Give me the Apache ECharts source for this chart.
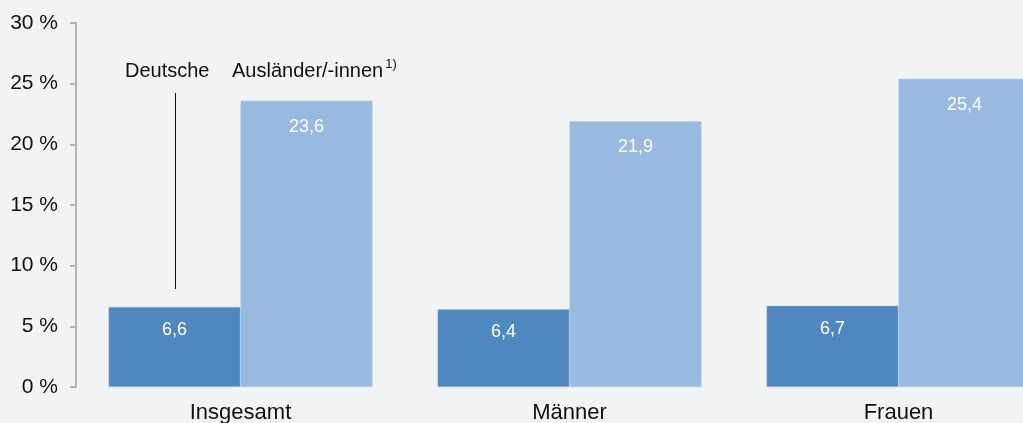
<!DOCTYPE html>
<html style="height: 100%">
<head>
    <meta charset="utf-8">
</head>
<body style="height: 100%; margin: 0; background: #f2f3f3">
<div id="bars" style="width: 1023px; height: 423px"></div>
<script src="https://cdn.jsdelivr.net/npm/echarts@6/dist/echarts.min.js"></script>
<script type="text/javascript">
    // Daten
    var kategorien = ['Insgesamt', 'Männer', 'Frauen'];
    var deutsche = [6.6, 6.4, 6.7];
    var auslaender = [23.6, 21.9, 25.4];
    var yTicks = [0, 5, 10, 15, 20, 25, 30];

    var myBars = echarts.init(document.getElementById('bars'));

    function komma(v) {
        return String(v).replace('.', ',');
    }

    var font = 'Liberation Sans, Arial, sans-serif';

    var option = {
        backgroundColor: '#f2f3f3',
        animation: false,
        grid: {
            left: 76,
            top: 23,
            width: 987,
            height: 364,
            outerBoundsMode: 'none',
            containLabel: false
        },
        xAxis: {
            type: 'category',
            data: kategorien,
            axisLine: { show: false },
            axisTick: { show: false },
            axisLabel: {
                color: '#111',
                fontSize: 22,
                fontFamily: font,
                margin: 15
            }
        },
        yAxis: {
            type: 'value',
            min: yTicks[0],
            max: yTicks[yTicks.length - 1],
            interval: 5,
            splitLine: { show: false },
            axisLine: { show: true, lineStyle: { color: '#b3b3b3', width: 2 } },
            axisTick: { show: true, length: 6, lineStyle: { color: '#b3b3b3', width: 2 } },
            axisLabel: {
                formatter: '{value} %',
                color: '#111',
                fontSize: 21,
                fontFamily: font,
                margin: 18
            }
        },
        series: [
            {
                name: 'Deutsche',
                type: 'bar',
                data: deutsche,
                barWidth: 132,
                barGap: '0%',
                itemStyle: { color: '#4f88be', borderColor: '#a9c4e2', borderWidth: 0.5 },
                label: {
                    show: true,
                    position: 'insideTop',
                    distance: 14,
                    color: '#ffffff',
                    fontSize: 18,
                    fontFamily: font,
                    formatter: function (p) { return komma(p.value); }
                }
            },
            {
                name: 'Ausländer/-innen',
                type: 'bar',
                data: auslaender,
                barWidth: 132,
                barGap: '0%',
                itemStyle: { color: '#98b9e0', borderColor: '#b4cce9', borderWidth: 0.5 },
                label: {
                    show: true,
                    position: 'insideTop',
                    distance: 17,
                    color: '#ffffff',
                    fontSize: 18,
                    fontFamily: font,
                    formatter: function (p) { return komma(p.value); }
                }
            }
        ],
        graphic: [
            {
                type: 'text',
                left: 125,
                top: 61,
                style: { text: 'Deutsche', fill: '#111', font: '20px ' + font }
            },
            {
                type: 'text',
                left: 232,
                top: 58,
                style: {
                    text: '{a|Ausländer/-innen}{s|1)}',
                    rich: {
                        a: { fill: '#111', fontSize: 20, fontFamily: font, verticalAlign: 'bottom' },
                        s: { fill: '#111', fontSize: 13, fontFamily: font, verticalAlign: 'top', padding: [0, 0, 10, 2] }
                    }
                }
            },
            {
                type: 'line',
                shape: { x1: 175.5, y1: 93, x2: 175.5, y2: 289 },
                style: { stroke: '#111', lineWidth: 1 }
            }
        ]
    };

    myBars.setOption(option);
    window.addEventListener('resize', function () {
        myBars.resize();
    });
</script>
</body>
</html>
